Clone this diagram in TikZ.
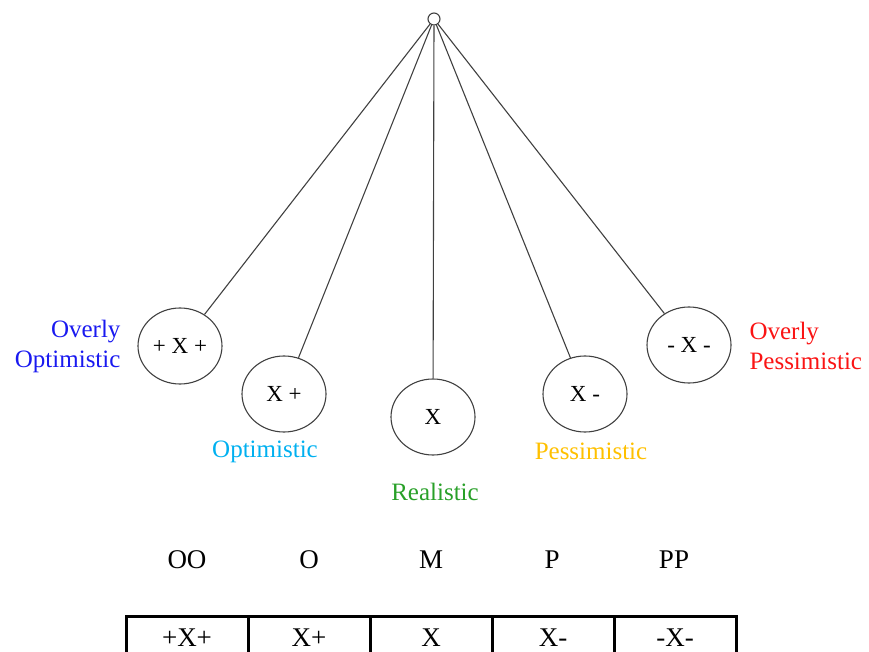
\documentclass[tikz,border=0pt]{standalone}
\usepackage{fontspec}
\setmainfont{Liberation Serif}
\usepackage{tikz}
\usetikzlibrary{shapes.geometric}

\definecolor{ooblue}{RGB}{25,25,240}
\definecolor{ocyan}{RGB}{0,176,240}
\definecolor{mgreen}{RGB}{40,160,40}
\definecolor{pgold}{RGB}{255,192,0}
\definecolor{ppred}{RGB}{250,20,20}

\begin{document}
\begin{tikzpicture}[x=1pt, y=-1pt,
  ball/.style={draw=black!75, ellipse, line width=1.1pt, minimum width=84,
               minimum height=76, inner sep=0pt, font=\fontsize{23}{27}\selectfont},
  string/.style={draw=black!75, line width=1.1pt},
  tag/.style={font=\fontsize{25}{30}\selectfont},
  head/.style={font=\fontsize{27}{30}\selectfont},
  cell/.style={draw, line width=3pt, minimum width=122, minimum height=44,
               inner sep=0pt, font=\fontsize{27}{30}\selectfont}
]
  \clip (0,0) rectangle (869,652);

  \node[draw=black!75, circle, line width=1.1pt, minimum size=12, inner sep=0pt] (pivot) at (434,19) {};

  \node[ball] (oo) at (180,346) {+ X +};
  \node[ball] (o)  at (284,394) {X +};
  \node[ball] (m)  at (433,417) {X};
  \node[ball] (p)  at (585,394) {X -};
  \node[ball] (pp) at (689,345) {- X -};

  \draw[string] (pivot) -- (oo);
  \draw[string] (pivot) -- (o);
  \draw[string] (pivot) -- (m);
  \draw[string] (pivot) -- (p);
  \draw[string] (pivot) -- (pp);

  \node[tag, text=ooblue, align=right, anchor=east] (oolab) at (124,346) {Overly\\Optimistic};
  \node[tag, text=ocyan] (olab) at (265,452) {Optimistic};
  \node[tag, text=mgreen] (mlab) at (435,492) {Realistic};
  \node[tag, text=pgold] (plab) at (591,451) {Pessimistic};
  \node[tag, text=ppred, align=left, anchor=west] (pplab) at (746,346) {Overly\\Pessimistic};

  \node[head] (ooh) at (187,560) {OO};
  \node[head] (oh)  at (309,560) {O};
  \node[head] (mh)  at (431,560) {M};
  \node[head] (ph)  at (552,560) {P};
  \node[head] (pph) at (674,560) {PP};

  \node[cell] (ooc) at (187,638) {+X+};
  \node[cell] (oc)  at (309,638) {X+};
  \node[cell] (mc)  at (431,638) {X};
  \node[cell] (pc)  at (553,638) {X-};
  \node[cell] (ppc) at (675,638) {-X-};
\end{tikzpicture}
\end{document}
